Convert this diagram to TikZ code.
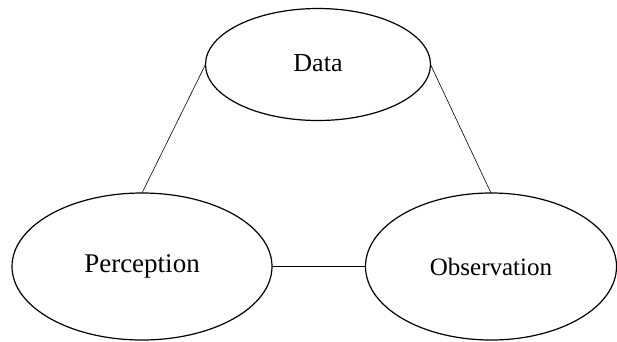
\documentclass[tikz,border=0pt]{standalone}
\usepackage{fontspec}
\setmainfont{Liberation Serif}
\usetikzlibrary{shapes.geometric}

\begin{document}
\begin{tikzpicture}[x=1pt, y=1pt, node distance=2cm]
    \useasboundingbox (0,0) rectangle (617,-341);
    \node (data) at (318,-64.5) [ellipse, draw, line width=1.2pt, inner sep=0pt, outer sep=0pt, minimum width=225pt, minimum height=112pt, font=\fontsize{26}{30}\selectfont] {\raisebox{4pt}{Data}};
    \node (perception) at (142,-266.5) [ellipse, draw, line width=1.2pt, inner sep=0pt, outer sep=0pt, minimum width=260pt, minimum height=147pt, font=\fontsize{27}{30}\selectfont] {Perception};
    \node (observation) [right of=perception, node distance=349pt, ellipse, draw, line width=1.2pt, inner sep=0pt, outer sep=0pt, minimum width=251pt, minimum height=147pt, font=\fontsize{25}{30}\selectfont] {Observation};

    \draw[line width=0.6pt] (data.west) -- (perception.north);
    \draw[line width=0.6pt] (data.east) -- (observation.north);
    \draw[line width=1.2pt] (perception.east) -- (observation.west);
\end{tikzpicture}
\end{document}
